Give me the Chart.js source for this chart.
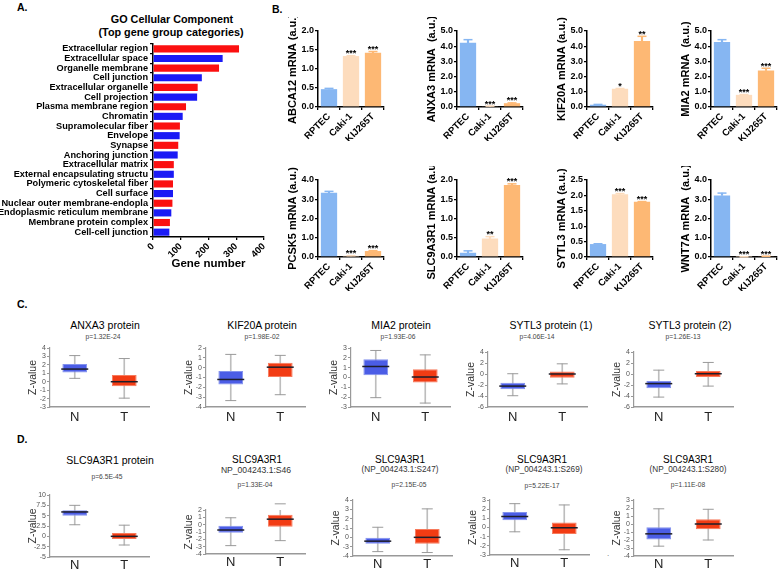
<!DOCTYPE html>
<html><head><meta charset="utf-8">
<script src="https://cdn.jsdelivr.net/npm/chart.js@4.4.1/dist/chart.umd.min.js"></script>
<style>
html,body{margin:0;padding:0;background:#fff;}
body{width:783px;height:569px;position:relative;overflow:hidden;font-family:"Liberation Sans",Arial,Helvetica,sans-serif;}
canvas{position:absolute;}
.tx{position:absolute;white-space:nowrap;line-height:1;}
</style></head><body>
<script>
// ---------------- Panel A data ----------------
const goCategories = ['Extracellular region','Extracellular space','Organelle membrane','Cell junction','Extracellular organelle','Cell projection','Plasma membrane region','Chromatin','Supramolecular fiber','Envelope','Synapse','Anchoring junction','Extracellular matrix','External encapsulating structu','Polymeric cytoskeletal fiber','Cell surface','Nuclear outer membrane-endopla','Endoplasmic reticulum membrane','Membrane protein complex','Cell-cell junction'];
const goGeneCounts = [310,251,238,176,161,159,119,107,97,96,91,89,75,75,72,72,70,66,61,59];

// ---------------- Panel B data ----------------
const cellLines = ['RPTEC','Caki-1','KIJ265T'];
const abca12Mean = [0.47,1.34,1.43];   const abca12Err = [0.02,0.01,0.03];  const abca12Sig = ['','***','***'];
const anxa3Mean  = [4.23,0.05,0.25];   const anxa3Err  = [0.2,0.01,0.02];   const anxa3Sig  = ['','***','***'];
const kif20aMean = [0.15,1.2,4.35];    const kif20aErr = [0.02,0.02,0.3];   const kif20aSig = ['','*','**'];
const mia2Mean   = [4.28,0.8,2.4];     const mia2Err   = [0.15,0.02,0.15];  const mia2Sig   = ['','***','***'];
const pcsk5Mean  = [3.34,0.06,0.31];   const pcsk5Err  = [0.07,0.01,0.02];  const pcsk5Sig  = ['','***','***'];
const slcMean    = [0.11,0.48,1.87];   const slcErr    = [0.05,0.05,0.03];  const slcSig    = ['','**','***'];
const sytl3Mean  = [0.42,2.04,1.79];   const sytl3Err  = [0.01,0.02,0.01];  const sytl3Sig  = ['','***','***'];
const wnt7aMean  = [3.2,0.01,0.04];    const wnt7aErr  = [0.12,0.0,0.0];    const wnt7aSig  = ['','***','***'];

// ---------------- Panel C / D data: [min, q1, median, q3, max] ----------------
const groups = ['N','T'];
const anxa3N  = [0.4,1.1,1.5,2.1,3.1];          const anxa3T  = [-1.95,-0.55,0.0,0.8,2.75];
const kif20aN = [-3.35,-1.7,-1.2,-0.35,1.35];   const kif20aT = [-2.75,-0.95,0.05,0.5,1.25];
const mia2N   = [-2.05,0.22,1.12,1.85,2.75];    const mia2T   = [-2.6,-0.5,0.05,0.85,2.3];
const sytl3aN = [-3.95,-2.75,-2.2,-1.6,0.05];   const sytl3aT = [-1.8,-0.7,0.0,0.45,1.85];
const sytl3bN = [-4.2,-2.6,-1.75,-1.25,0.7];    const sytl3bT = [-2.2,-0.55,0.05,0.55,2.1];
const slcProtN = [2.8,5.0,5.9,6.3,7.5];         const slcProtT = [-2.1,-0.65,0.0,0.8,2.7];
const s46N  = [-2.86,-1.11,-0.73,-0.16,0.94];   const s46T  = [-2.18,-0.28,0.75,1.35,2.84];
const s247N = [-1.53,-0.69,-0.41,-0.04,1.08];   const s247T = [-1.63,-0.69,0.0,0.9,3.05];
const s269N = [-0.47,0.79,1.2,1.68,2.6];        const s269T = [-2.43,-0.7,-0.03,0.54,2.46];
const s280N = [-2.77,-1.93,-1.23,-0.4,1.9];     const s280T = [-2.0,-0.65,0.0,0.59,1.84];
// tick labels as printed on the S46 / S247 axes (top to bottom)
const s46TickLabels  = ['2','1','0','-1','-2','-3','-4'];
const s247TickLabels = ['4','3','2','-1','0','-3','-4'];

// ---------------- helpers ----------------
const FF = "'Liberation Sans', Arial, sans-serif";
Chart.defaults.font.family = FF;
function mkCanvas(x,y,w,h){
  const c=document.createElement('canvas');
  c.width=w;c.height=h;c.style.left=x+'px';c.style.top=y+'px';c.style.width=w+'px';c.style.height=h+'px';
  document.body.appendChild(c);return c;
}
function txt(s,x,cy,size,o){
  o=o||{};
  const d=document.createElement('div');d.className='tx';d.textContent=s;
  d.style.fontSize=size+'px';d.style.fontWeight=o.bold?'bold':'normal';d.style.color=o.color||'#000';
  d.style.left=x+'px';d.style.top=(cy-0.5*size)+'px';
  if(o.align!=='left')d.style.transform='translateX(-50%)';
  document.body.appendChild(d);
}
const baseOpts={responsive:false,animation:false,events:[],plugins:{legend:{display:false},tooltip:{enabled:false},title:{display:false}}};

// ---------------- Panel A ----------------
txt('A.',17,7,10.5,{bold:true,align:'left'});
txt('GO Cellular Component',172,19,10.8,{bold:true});
txt('(Top gene group categories)',171,32,10.8,{bold:true});
(function(){
  const c=mkCanvas(0,36,276,236);
  new Chart(c,{type:'bar',
    data:{labels:goCategories,datasets:[{data:goGeneCounts,
      backgroundColor:goCategories.map((_,i)=>i%2===0?'#fb1010':'#1a1af5'),barPercentage:0.74,categoryPercentage:1}]},
    options:Object.assign({},baseOpts,{indexAxis:'y',
      layout:{padding:{top:8,right:12,left:0,bottom:0}},
      scales:{
        x:{min:0,max:400,ticks:{stepSize:100,autoSkip:false,minRotation:45,maxRotation:45,padding:1,color:'#000',font:{size:9.5,weight:'bold'}},
           grid:{drawOnChartArea:false,tickLength:3,color:'#000',lineWidth:1.3},border:{color:'#000',width:1.5},
           title:{display:true,text:'Gene number',color:'#000',font:{size:11.5,weight:'bold'},padding:{top:0,bottom:1}},
           afterFit:s=>{s.height=35;}},
        y:{ticks:{autoSkip:false,padding:2,color:'#000',font:{size:9.2,weight:'bold'}},
           grid:{drawOnChartArea:false,tickLength:3,color:'#000',lineWidth:1.3},border:{color:'#000',width:1.5},
           afterFit:s=>{s.width=153;}}
      }})
  });
})();

// ---------------- Panel B ----------------
txt('B.',272,9,10.5,{bold:true,align:'left'});
const B_FILL=['#86b6f2','#fddcbd','#fdb874'];
const starPlugin={id:'sigStars',afterDatasetsDraw(chart,args,opts){
  const ctx=chart.ctx,xs=chart.scales.x,ys=chart.scales.y,tops=chart.data.datasets[2].data;
  ctx.save();ctx.font='bold 9px '+FF;ctx.textAlign='center';ctx.textBaseline='alphabetic';ctx.fillStyle='#000';
  (opts.labels||[]).forEach((s,i)=>{if(s)ctx.fillText(s,xs.getPixelForValue(i),ys.getPixelForValue(tops[i])+0.5);});
  ctx.restore();
}};
function mrnaChart(axisX,plotTop,plotH,mean,err,sig,yMax,yStep,yTitle){
  const yW=34,padTop=14,padR=3,plotW=69,xH=34;
  const c=mkCanvas(axisX-yW,plotTop-padTop,yW+plotW+padR,padTop+plotH+xH);
  new Chart(c,{type:'bar',
    data:{labels:cellLines,datasets:[
      {data:mean,backgroundColor:B_FILL,barPercentage:0.74,categoryPercentage:1,grouped:false,order:2},
      {data:mean.map((m,i)=>[m,m+err[i]]),backgroundColor:B_FILL,barThickness:1.5,grouped:false,order:3},
      {type:'line',data:mean.map((m,i)=>m+err[i]),showLine:false,pointStyle:'line',pointRadius:4.5,pointHoverRadius:4.5,
       pointBorderColor:B_FILL,pointBorderWidth:1.5,clip:false,order:1}
    ]},
    options:Object.assign({},baseOpts,{
      layout:{padding:{top:padTop,right:padR,left:0,bottom:0}},
      plugins:{legend:{display:false},tooltip:{enabled:false},sigStars:{labels:sig}},
      scales:{
        x:{ticks:{autoSkip:false,minRotation:45,maxRotation:45,padding:1,color:'#000',font:{size:9.5,weight:'bold'}},
           grid:{drawOnChartArea:false,tickLength:3,color:'#000',lineWidth:1.3},border:{color:'#000',width:1.5},
           afterFit:s=>{s.height=xH;}},
        y:{min:0,max:yMax,ticks:{stepSize:yStep,autoSkip:false,padding:1,color:'#000',font:{size:9,weight:'bold'},callback:v=>v.toFixed(1)},
           grid:{drawOnChartArea:false,tickLength:3,color:'#000',lineWidth:1.3},border:{color:'#000',width:1.5},
           title:{display:true,text:yTitle,color:'#000',font:{size:11,weight:'bold'},padding:{top:2,bottom:0}},
           afterFit:s=>{s.width=yW;}}
      }}),
    plugins:[starPlugin]
  });
}
mrnaChart(318,31,76,abca12Mean,abca12Err,abca12Sig,2,0.5,'ABCA12 mRNA (a.u.)');
mrnaChart(457,31,76,anxa3Mean,anxa3Err,anxa3Sig,5,1,'ANXA3 mRNA  (a.u.)');
mrnaChart(587,31,76,kif20aMean,kif20aErr,kif20aSig,5,1,'KIF20A mRNA (a.u.)');
mrnaChart(711,31,76,mia2Mean,mia2Err,mia2Sig,5,1,'MIA2 mRNA  (a.u.)');
mrnaChart(318,180,77,pcsk5Mean,pcsk5Err,pcsk5Sig,4,1,'PCSK5 mRNA (a.u.)');
mrnaChart(457,180,77,slcMean,slcErr,slcSig,2,0.5,'SLC9A3R1 mRNA (a.u.)');
mrnaChart(587,180,77,sytl3Mean,sytl3Err,sytl3Sig,2.5,0.5,'SYTL3 mRNA (a.u.)');
mrnaChart(711,180,77,wnt7aMean,wnt7aErr,wnt7aSig,4,1,'WNT7A mRNA  (a.u.)');

// ---------------- Panels C / D (box plots) ----------------
const N_FILL='#4b5de6',N_EDGE='#8392ee',T_FILL='#f23c14',T_EDGE='#f77a5c',WHISK='#bdbdbd',CAP='#9a9a9a';
function boxChart(plotLeft,plotTop,plotBottom,nS,tS,yMin,yMax,yStep,tickLabels,xPad){
  const yW=23,padTop=7,padR=4,plotW=110,xH=24;
  const c=mkCanvas(plotLeft-yW,plotTop-padTop,yW+plotW+padR,padTop+(plotBottom-plotTop)+xH);
  const st=[nS,tS];
  const yTicks={stepSize:yStep,autoSkip:false,padding:1,color:'#555',font:{size:7}};
  if(tickLabels){yTicks.callback=(v,i,ticks)=>tickLabels[ticks.length-1-i];}
  new Chart(c,{type:'bar',
    data:{labels:groups,datasets:[
      {data:st.map(s=>[s[0],s[4]]),backgroundColor:WHISK,barThickness:1,grouped:false,order:5},
      {data:st.map(s=>[s[1],s[3]]),backgroundColor:[N_FILL,T_FILL],borderColor:[N_EDGE,T_EDGE],borderWidth:1,borderSkipped:false,
       barPercentage:0.5,categoryPercentage:1,grouped:false,order:4},
      {type:'line',data:st.map(s=>s[0]),showLine:false,pointStyle:'line',pointRadius:5.5,pointHoverRadius:5.5,pointBorderColor:CAP,pointBorderWidth:1,clip:false,order:3},
      {type:'line',data:st.map(s=>s[4]),showLine:false,pointStyle:'line',pointRadius:5.5,pointHoverRadius:5.5,pointBorderColor:CAP,pointBorderWidth:1,clip:false,order:2},
      {type:'line',data:st.map(s=>s[2]),showLine:false,pointStyle:'line',pointRadius:13.5,pointHoverRadius:13.5,pointBorderColor:'#1e1e2a',pointBorderWidth:1.5,clip:false,order:1}
    ]},
    options:Object.assign({},baseOpts,{
      layout:{padding:{top:padTop,right:padR,left:0,bottom:0}},
      scales:{
        x:{ticks:{autoSkip:false,padding:xPad,color:'#222',font:{size:13}},grid:{drawOnChartArea:false,drawTicks:false},
           border:{color:'#999',width:1.5},afterFit:s=>{s.height=xH;}},
        y:{min:yMin,max:yMax,ticks:yTicks,grid:{drawOnChartArea:false,tickLength:3,color:'#999'},border:{color:'#999',width:1.2},
           title:{display:true,text:'Z-value',color:'#333',font:{size:10.5},padding:{top:0,bottom:0}},
           afterFit:s=>{s.width=yW;}}
      }})
  });
}
txt('C.',17,304,10.5,{bold:true,align:'left'});
const cCols=[50,206,351,488,634];
txt('ANXA3 protein',105,325,10.5); txt('p=1.32E-24',103,337,6.7,{color:'#444'});
boxChart(cCols[0],340,407,anxa3N,anxa3T,-3,4,1,null,3);
txt('KIF20A protein',262,325,10.5); txt('p=1.98E-02',262,337,6.7,{color:'#444'});
boxChart(cCols[1],340,407,kif20aN,kif20aT,-4,2,1,null,3);
txt('MIA2 protein',401,325,10.5); txt('p=1.93E-06',398,337,6.7,{color:'#444'});
boxChart(cCols[2],340,407,mia2N,mia2T,-3,3,1,null,3);
txt('SYTL3 protein (1)',551,325,10.5); txt('p=4.06E-14',537,337,6.7,{color:'#444'});
boxChart(cCols[3],344,407,sytl3aN,sytl3aT,-6,4,2,null,3);
txt('SYTL3 protein (2)',690,325,10.5); txt('p=1.26E-13',683,337,6.7,{color:'#444'});
boxChart(cCols[4],344,407,sytl3bN,sytl3bT,-6,4,2,null,3);

txt('D.',17,439,10.5,{bold:true,align:'left'});
const dCols=[50,206,353,490,634];
txt('SLC9A3R1 protein',110,460,10.5); txt('p=6.5E-45',107,477,6.7,{color:'#444'});
boxChart(dCols[0],487,557,slcProtN,slcProtT,-5,10,2.5,null,1);
txt('SLC9A3R1',257,460,10); txt('NP_004243.1:S46',256,470,8.6,{color:'#333'}); txt('p=1.33E-04',255,485,6.7,{color:'#444'});
boxChart(dCols[1],502,554,s46N,s46T,-4,2,1,s46TickLabels,1);
txt('SLC9A3R1',400,460,10); txt('(NP_004243.1:S247)',400,470,8.2,{color:'#333'}); txt('p=2.15E-05',409,485,6.7,{color:'#444'});
boxChart(dCols[2],492,556,s247N,s247T,-2,4,1,s247TickLabels,1);
txt('SLC9A3R1',542,460,10); txt('(NP_004243.1:S269)',544,470,8.2,{color:'#333'}); txt('p=5.22E-17',542,486,6.7,{color:'#444'});
boxChart(dCols[3],492,555,s269N,s269T,-3,3,1,null,1);
txt('SLC9A3R1',688,460,10); txt('(NP_004243.1:S280)',688,470,8.2,{color:'#333'}); txt('p=1.11E-08',688,485,6.7,{color:'#444'});
boxChart(dCols[4],492,556,s280N,s280T,-4,3,1,null,1);
txt('.',608,554,8,{color:'#666'});
</script>
</body></html>
